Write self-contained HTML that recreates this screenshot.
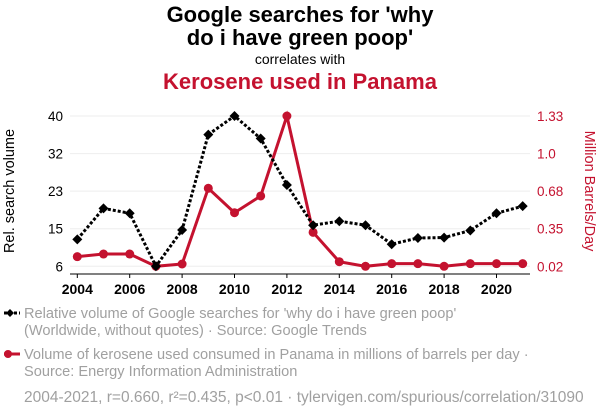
<!DOCTYPE html>
<html><head><meta charset="utf-8"><style>
body{margin:0;background:#fff;font-family:"Liberation Sans",sans-serif}
svg text{font-family:"Liberation Sans",sans-serif}
</style></head><body>
<svg width="600" height="414" viewBox="0 0 600 414" xmlns="http://www.w3.org/2000/svg">
<text x="300" y="22" text-anchor="middle" font-size="22" font-weight="bold" fill="#000">Google searches for 'why</text>
<text x="300" y="45" text-anchor="middle" font-size="22" font-weight="bold" fill="#000">do i have green poop'</text>
<text x="300" y="64" text-anchor="middle" font-size="14" fill="#000">correlates with</text>
<text x="300" y="89" text-anchor="middle" font-size="22" font-weight="bold" fill="#c4122f">Kerosene used in Panama</text>
<g id="grid"></g>
<g id="axes"></g>
<g id="series"></g>
<text transform="translate(14,191) rotate(-90)" text-anchor="middle" font-size="14.5" fill="#000">Rel. search volume</text>
<text transform="translate(585,191) rotate(90)" text-anchor="middle" font-size="14.5" fill="#c4122f">Million Barrels/Day</text>
<g>
<line x1="4" y1="313" x2="20" y2="313" stroke="#000" stroke-width="3" stroke-dasharray="3,2"/>
<path d="M6,313 l4,-4 l4,4 l-4,4z" fill="#000"/>
<text x="24" y="318" font-size="14.6" fill="#a0a0a0">Relative volume of Google searches for 'why do i have green poop'</text>
<text x="24" y="335" font-size="14.6" fill="#a0a0a0">(Worldwide, without quotes) · Source: Google Trends</text>
</g>
<g>
<line x1="4" y1="354" x2="20" y2="354" stroke="#c4122f" stroke-width="3"/>
<circle cx="8" cy="354" r="4" fill="#c4122f"/>
<text x="24" y="359" font-size="14.6" fill="#a0a0a0">Volume of kerosene used consumed in Panama in millions of barrels per day ·</text>
<text x="24" y="376" font-size="14.6" fill="#a0a0a0">Source: Energy Information Administration</text>
</g>
<text x="24" y="402" font-size="15.5" fill="#a0a0a0">2004-2021, r=0.660, r²=0.435, p&lt;0.01 · tylervigen.com/spurious/correlation/31090</text>
</svg>
<script>
const years=[2004,2005,2006,2007,2008,2009,2010,2011,2012,2013,2014,2015,2016,2017,2018,2019,2020,2021];
const searchValues=[12.1,19.1,18.0,6,14.2,35.8,40,34.9,24.4,15.3,16.2,15.3,11.0,12.4,12.5,14.1,18.0,19.6];
const keroseneValues=[0.104,0.127,0.127,0.02,0.04,0.70,0.487,0.633,1.33,0.316,0.06,0.02,0.043,0.043,0.02,0.043,0.043,0.043];
const leftTicks=[6,15,23,32,40];
const rightTicks=["0.02","0.35","0.68","1.0","1.33"];
const xTicks=[2004,2006,2008,2010,2012,2014,2016,2018,2020];
const NS="http://www.w3.org/2000/svg";
const X=y=>77.3+(y-2004)*(522.7-77.3)/17;
const YL=v=>266.3-(v-6)/34*150.3;
const YR=v=>266.3-(v-0.02)/1.31*150.3;
function mk(t,a,p){const e=document.createElementNS(NS,t);for(const k in a)e.setAttribute(k,a[k]);p.appendChild(e);return e;}
const grid=document.getElementById('grid'),axes=document.getElementById('axes'),ser=document.getElementById('series');
for(let i=0;i<5;i++){const y=266.3-i*150.3/4;
 const g=mk('line',{x1:70,x2:530,y1:y,y2:y,stroke:'#eee','stroke-width':1},grid);
 
 const t=mk('text',{x:63,y:y+5,'text-anchor':'end','font-size':13.5,fill:'#000'},axes);t.textContent=leftTicks[i];
 
 const r=mk('text',{x:537,y:y+5,'text-anchor':'start','font-size':13.5,fill:'#c4122f'},axes);r.textContent=rightTicks[i];
 
}
const ax=mk('line',{x1:70,x2:530,y1:274,y2:274,stroke:'#000','stroke-width':1},axes);

xTicks.forEach(y=>{mk('line',{x1:X(y),x2:X(y),y1:274,y2:278,stroke:'#000'},axes);
 const t=mk('text',{x:X(y),y:294,'text-anchor':'middle','font-size':14,'font-weight':'bold',fill:'#000'},axes);t.textContent=y;
 });
const rl=mk('polyline',{points:years.map((y,i)=>X(y)+','+YR(keroseneValues[i])).join(' '),fill:'none',stroke:'#c4122f','stroke-width':3},ser);

years.forEach((y,i)=>{const c=mk('circle',{cx:X(y),cy:YR(keroseneValues[i]),r:4.5,fill:'#c4122f'},ser);
 });
const bl=mk('polyline',{points:years.map((y,i)=>X(y)+','+YL(searchValues[i])).join(' '),fill:'none',stroke:'#000','stroke-width':3,'stroke-dasharray':'3,2'},ser);

years.forEach((y,i)=>{const cx=X(y),cy=YL(searchValues[i]);
 const d=mk('path',{d:`M${cx-5},${cy} L${cx},${cy-5} L${cx+5},${cy} L${cx},${cy+5}Z`,fill:'#000'},ser);
 });
</script>
</body></html>
